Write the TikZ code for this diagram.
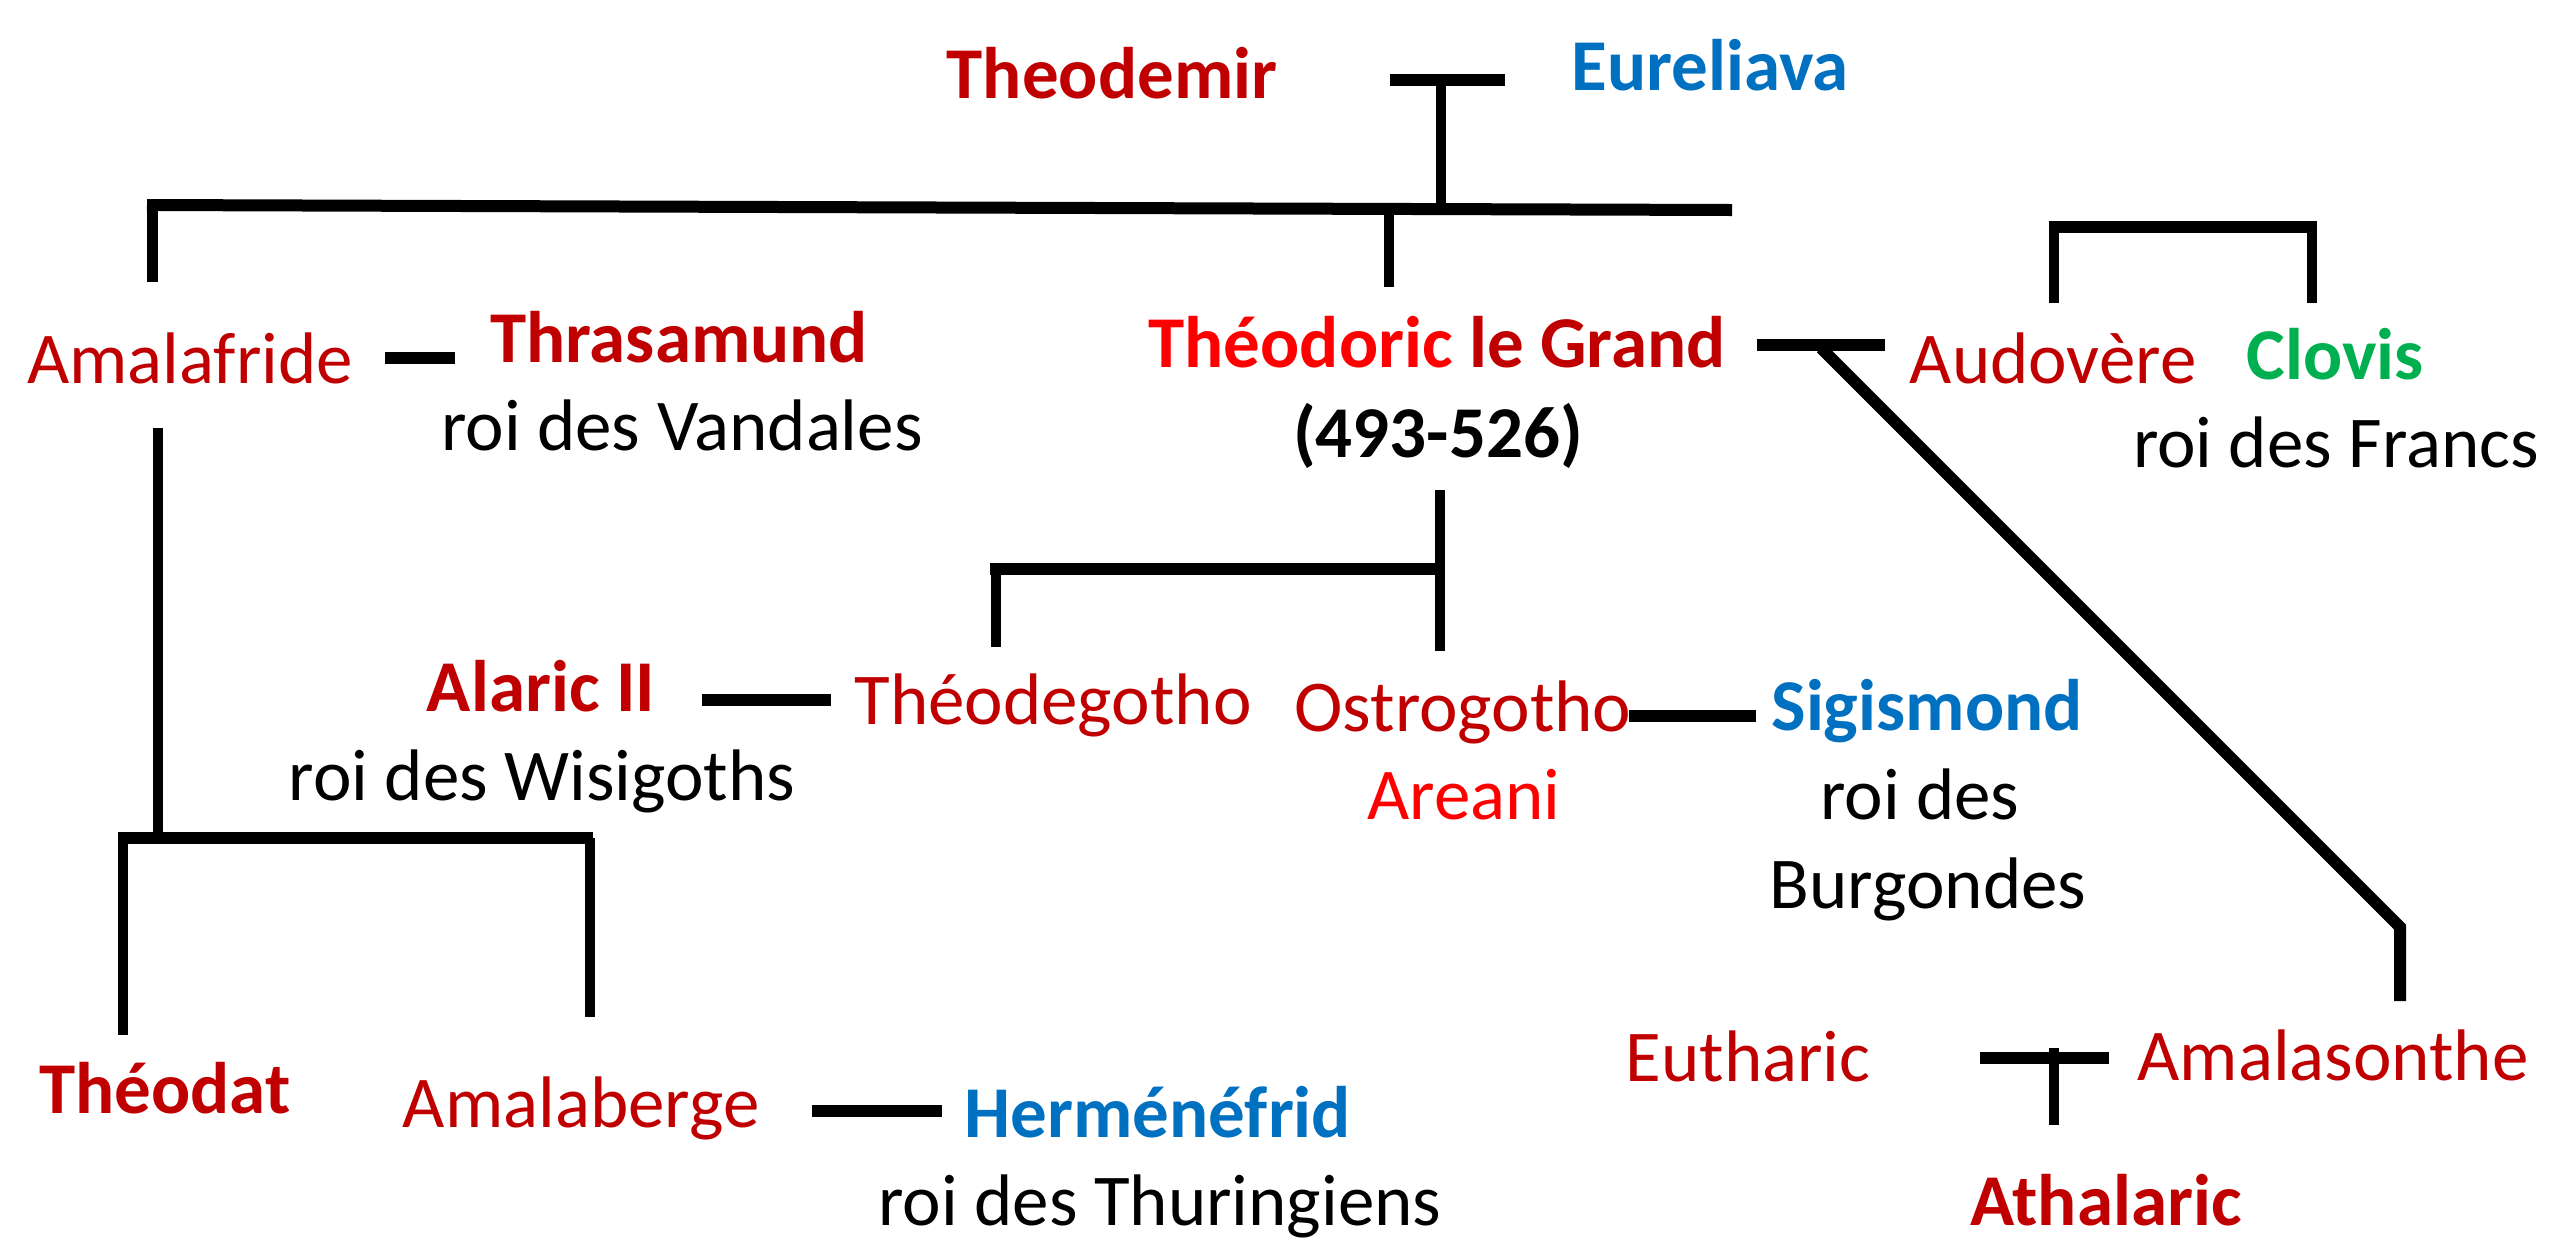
\documentclass[tikz,border=0pt]{standalone}
\usepackage{fontspec}
\setmainfont{Carlito}
\definecolor{dkred}{HTML}{C00000}
\definecolor{brred}{HTML}{FF0000}
\definecolor{gblue}{HTML}{0070C0}
\definecolor{ggreen}{HTML}{00B050}
\begin{document}
\begin{tikzpicture}[x=0.5pt,y=-0.5pt,
  lbl/.style={inner sep=0pt,anchor=base,font=\fontsize{36.5}{40}\selectfont},
  nm/.style={lbl,text=dkred},
  nmb/.style={lbl,text=dkred,font=\fontsize{36.5}{40}\selectfont\bfseries},
  blu/.style={lbl,text=gblue,font=\fontsize{36.5}{40}\selectfont\bfseries},
  grn/.style={lbl,text=ggreen,font=\fontsize{36.5}{40}\selectfont\bfseries},
  blk/.style={lbl,text=black},
  hl/.style={line width=6pt,black},
  vl/.style={line width=5.3pt,black},
  dl/.style={line width=6pt,black,line join=miter}]
\useasboundingbox[fill=white] (0,0) rectangle (2560,1239);
% names
\node[nmb] (theodemir) at (1112,98) {Theodemir};
\node[blu] (eureliava) at (1710,90) {Eureliava};
\node[nm]  (amalafride) at (190,383) {Amalafride};
\node[nmb] (thrasamund) at (679,362) {Thrasamund};
\node[blk] (vandales) at (682,450) {roi des Vandales};
\node[lbl,font=\fontsize{36.5}{40}\selectfont\bfseries] (theodoric) at (1437,367) {\textcolor{brred}{Théodoric}\ \textcolor{dkred}{le Grand}};
\node[lbl,font=\fontsize{36.5}{40}\selectfont\bfseries] (dates) at (1438,457) {(493-526)};
\node[nm]  (audovere) at (2053,383) {Audovère};
\node[grn] (clovis) at (2335,379) {Clovis};
\node[blk] (francs) at (2336,467) {roi des Francs};
\node[nmb] (alaric) at (541,711) {Alaric II};
\node[blk] (wisigoths) at (542,800) {roi des Wisigoths};
\node[nm]  (theodegotho) at (1053,724) {Théodegotho};
\node[nm]  (ostrogotho) at (1463,731) {Ostrogotho};
\node[lbl,text=brred] (areani) at (1464,819) {Areani};
\node[blu] (sigismond) at (1927,730) {Sigismond};
\node[blk] (roides) at (1920,819) {roi des};
\node[blk] (burgondes) at (1928,908) {Burgondes};
\node[nm]  (eutharic) at (1748,1081) {Eutharic};
\node[nm]  (amalasonthe) at (2333,1080) {Amalasonthe};
\node[nmb] (theodat) at (165,1113) {Théodat};
\node[nm]  (amalaberge) at (581,1127) {Amalaberge};
\node[blu] (hermenefrid) at (1158,1137) {Herménéfrid};
\node[blk] (thuringiens) at (1160,1225) {roi des Thuringiens};
\node[nmb] (athalaric) at (2106,1225) {Athalaric};
% coordinates
\coordinate (tA) at (1390,80);   \coordinate (tB) at (1505,80);
\coordinate (tC) at (1441,77);   \coordinate (tD) at (1441,207);
\coordinate (lA) at (147,205);   \coordinate (lB) at (1732,210);
\coordinate (lC) at (152.5,200); \coordinate (lD) at (152.5,282);
\coordinate (lE) at (1389,208);  \coordinate (lF) at (1389,287);
\coordinate (d1a) at (385,358);  \coordinate (d1b) at (455,358);
\coordinate (vA) at (158,428);   \coordinate (vB) at (158,838);
\coordinate (bA) at (118,838);   \coordinate (bB) at (593,838);
\coordinate (bC) at (123,838);   \coordinate (bD) at (123,1035);
\coordinate (bE) at (590,838);   \coordinate (bF) at (590,1017);
\coordinate (gA) at (1757,345);  \coordinate (gB) at (1885,345);
\coordinate (gC) at (1821,348);  \coordinate (gD) at (2400,927);
\coordinate (gE) at (2400,1001);
\coordinate (mA) at (1440,490);  \coordinate (mB) at (1440,651);
\coordinate (mC) at (990,569);   \coordinate (mD) at (1443,569);
\coordinate (mE) at (996,566);   \coordinate (mF) at (996,647);
\coordinate (d2a) at (702,700);  \coordinate (d2b) at (831,700);
\coordinate (d3a) at (1629,716); \coordinate (d3b) at (1756,716);
\coordinate (cA) at (2049,227);  \coordinate (cB) at (2317,227);
\coordinate (cC) at (2054,224);  \coordinate (cD) at (2054,303);
\coordinate (cE) at (2312,224);  \coordinate (cF) at (2312,303);
\coordinate (eA) at (1980,1058); \coordinate (eB) at (2109,1058);
\coordinate (eC) at (2054,1048); \coordinate (eD) at (2054,1125);
\coordinate (d4a) at (812,1111); \coordinate (d4b) at (942,1111);
% connectors
\draw[hl] (tA) -- (tB);
\draw[vl] (tC) -- (tD);
\draw[hl] (lA) -- (lB);
\draw[vl] (lC) -- (lD);
\draw[vl] (lE) -- (lF);
\draw[hl] (d1a) -- (d1b);
\draw[vl] (vA) -- (vB);
\draw[hl] (bA) -- (bB);
\draw[vl] (bC) -- (bD);
\draw[vl] (bE) -- (bF);
\draw[hl] (gA) -- (gB);
\draw[dl] (gC) -- (gD) -- (gE);
\draw[vl] (mA) -- (mB);
\draw[hl] (mC) -- (mD);
\draw[vl] (mE) -- (mF);
\draw[hl] (d2a) -- (d2b);
\draw[hl] (d3a) -- (d3b);
\draw[hl] (cA) -- (cB);
\draw[vl] (cC) -- (cD);
\draw[vl] (cE) -- (cF);
\draw[hl] (eA) -- (eB);
\draw[vl] (eC) -- (eD);
\draw[hl] (d4a) -- (d4b);
\end{tikzpicture}
\end{document}
